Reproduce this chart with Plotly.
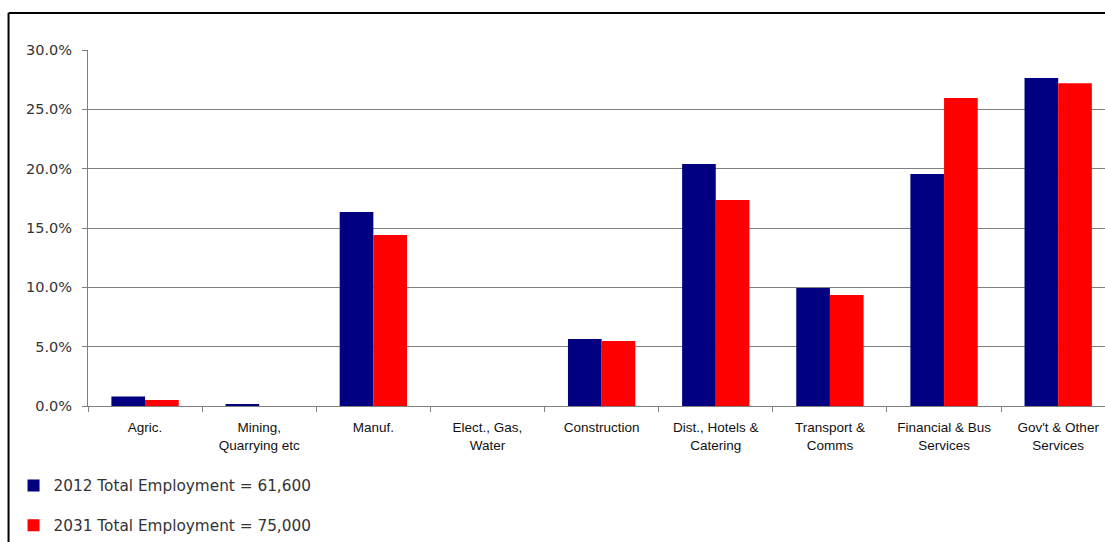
import plotly.graph_objects as go

categories = ["Agric.", "Mining,<br>Quarrying etc", "Manuf.", "Elect., Gas,<br>Water",
              "Construction", "Dist., Hotels &<br>Catering", "Transport &<br>Comms",
              "Financial & Bus<br>Services", "Gov't & Other<br>Services"]
values_2012 = [0.0080, 0.0015, 0.1635, 0.0, 0.0564, 0.2040, 0.0994, 0.1955, 0.2763]
values_2031 = [0.0050, 0.0, 0.1440, 0.0, 0.0548, 0.1735, 0.0935, 0.2595, 0.2720]
name_2012 = "2012 Total Employment = 61,600"
name_2031 = "2031 Total Employment = 75,000"

L, R, T, B = 87.5, 0, 50, 136
W, H = 1105, 542
pw = W - L - R
ph = H - T - B

fig = go.Figure()
fig.add_trace(go.Bar(x=categories, y=values_2012, name=name_2012,
                     marker=dict(color="#000080", line=dict(width=0)), legendgroup="a"))
fig.add_trace(go.Bar(x=categories, y=values_2031, name=name_2031,
                     marker=dict(color="#FF0000", line=dict(width=0)), legendgroup="b"))

def px_x(p):
    return (p - L) / pw

def px_y(p):
    return (H - B - p) / ph

fig.update_layout(
    width=W, height=H,
    margin=dict(l=L, r=R, t=T, b=B),
    paper_bgcolor="white", plot_bgcolor="white",
    barmode="group", bargap=0.41, bargroupgap=0,
    font=dict(family="DejaVu Sans", color="#222222"),
    legend=dict(orientation="v", x=px_x(13), y=px_y(542), xanchor="left", yanchor="bottom",
                font=dict(size=15.3, family="DejaVu Sans", color="#333333"),
                tracegroupgap=17, traceorder="grouped", bgcolor="rgba(0,0,0,0)"),
    xaxis=dict(range=[-0.5, 8.41], showline=True, linecolor="#808080", linewidth=1,
               ticks="outside", tickson="boundaries", ticklen=5, tickcolor="#808080",
               tickfont=dict(family="Liberation Sans", size=13.5, color="#111111"),
               ticklabelstandoff=9, tickangle=0,
               showgrid=False, fixedrange=True),
    yaxis=dict(range=[0, 0.30], dtick=0.05, tickformat=".1%", showline=True,
               linecolor="#808080", linewidth=1, ticks="outside", ticklen=5,
               tickcolor="#808080", showgrid=True, gridcolor="#808080", gridwidth=1,
               tickfont=dict(family="DejaVu Sans", size=14.5, color="#333333"),
               ticklabelstandoff=7,
               zeroline=False, fixedrange=True),
    shapes=[
        dict(type="line", xref="paper", yref="paper", x0=px_x(8), x1=px_x(8),
             y0=px_y(545), y1=px_y(13), line=dict(color="black", width=2)),
        dict(type="line", xref="paper", yref="paper", x0=px_x(8), x1=px_x(1110),
             y0=px_y(13), y1=px_y(13), line=dict(color="black", width=2)),
    ],
)

fig.write_html("out.html")
